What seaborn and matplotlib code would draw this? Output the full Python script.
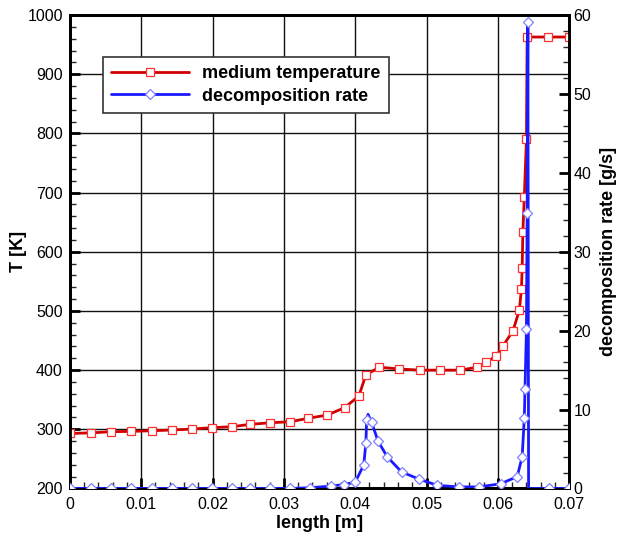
import matplotlib
matplotlib.use("Agg")
import matplotlib.pyplot as plt
import seaborn as sns
import numpy as np
import pandas as pd
from matplotlib.ticker import MultipleLocator
from matplotlib.lines import Line2D

sns.set_theme(style="white")
plt.rcParams['font.family'] = ['Liberation Sans', 'DejaVu Sans']
plt.rcParams['text.color'] = 'black'
plt.rcParams['axes.labelcolor'] = 'black'

# medium temperature
temp_x = [0.0, 0.0030, 0.0058, 0.0086, 0.0115, 0.0143, 0.0171, 0.0199, 0.0227, 0.0253,
          0.0281, 0.0309, 0.0334, 0.0361, 0.0385, 0.0405, 0.0415, 0.0434, 0.0461, 0.0491,
          0.0519, 0.0547, 0.0571, 0.0584, 0.0598, 0.0607, 0.0621, 0.0630, 0.0633, 0.0634,
          0.0635, 0.0637, 0.0640, 0.0641, 0.0670, 0.0700]
temp_T = [293, 294, 296, 296.5, 297.6, 298.8, 300.5, 302.7, 304.4, 308.4,
          311.1, 312.8, 318.6, 324.2, 336.5, 356, 392, 405, 402, 400,
          400, 400, 405, 414, 424, 441, 466, 501, 537, 572,
          633, 692, 790, 963, 963, 963]

# decomposition rate
rate_x = [0.0, 0.0030, 0.0058, 0.0086, 0.0115, 0.0143, 0.0171, 0.0199, 0.0227, 0.0253,
          0.0281, 0.0309, 0.0337, 0.0366, 0.0384, 0.0400, 0.0412, 0.0415, 0.0416, 0.0418,
          0.0423, 0.0432, 0.0445, 0.0465, 0.0489, 0.0515, 0.0545, 0.0574, 0.0604, 0.0627,
          0.0634, 0.0637, 0.0638, 0.0640, 0.0641, 0.0642, 0.0643, 0.0671, 0.0700]
rate_v = [0, 0, 0, 0, 0, 0, 0, 0, 0, 0,
          0, 0, 0.1, 0.3, 0.5, 0.8, 3.0, 5.8, 8.7, 9.4,
          8.4, 6.0, 4.0, 2.1, 1.2, 0.4, 0.2, 0.2, 0.6, 1.5,
          4.0, 8.9, 12.6, 20.2, 34.9, 59.1, 0, 0, 0]
rate_nomarker = [19, 36]

red = "#d00000"
red_m = "#ff3030"
blue = "#1a1aff"
blue_m = "#8080ff"

fig = plt.figure(figsize=(6.29, 5.40), dpi=100)
ax = fig.add_axes([0.111, 0.0954, 0.794, 0.8766])
ax2 = ax.twinx()

df_t = pd.DataFrame({"x": temp_x, "T": temp_T})
df_r = pd.DataFrame({"x": rate_x, "r": rate_v})

sns.lineplot(data=df_t, x="x", y="T", ax=ax, color=red, lw=2.0, sort=False,
             estimator=None, marker="s", markersize=5.2, markerfacecolor="white",
             markeredgecolor=red_m, markeredgewidth=0.9, zorder=3)
mk = [i for i in range(len(rate_x)) if i not in rate_nomarker]
sns.lineplot(data=df_r, x="x", y="r", ax=ax2, color=blue, lw=2.0, sort=False,
             estimator=None, marker="D", markersize=5.2, markerfacecolor="white",
             markeredgecolor=blue_m, markeredgewidth=0.9, markevery=mk, zorder=3)

ax.set_xlim(0, 0.07)
ax.set_ylim(200, 1000)
ax2.set_ylim(0, 60)

ax.xaxis.set_major_locator(MultipleLocator(0.01))
ax.xaxis.set_minor_locator(MultipleLocator(0.002))
ax.yaxis.set_major_locator(MultipleLocator(100))
ax.yaxis.set_minor_locator(MultipleLocator(20))
ax2.yaxis.set_major_locator(MultipleLocator(10))
ax2.yaxis.set_minor_locator(MultipleLocator(2))
ax.set_xticklabels([f"{v:g}" for v in np.round(ax.get_xticks(), 2)])

ax.grid(True, which="major", color="#111111", lw=1.0)
ax.set_axisbelow(True)

for a in (ax, ax2):
    for s in a.spines.values():
        s.set_linewidth(2.0)
        s.set_color("black")
ax.tick_params(axis="both", which="major", direction="in", length=7, width=2,
               labelsize=11.5, colors="black", pad=5)
ax.tick_params(axis="x", which="major", pad=6)
ax.tick_params(axis="both", which="minor", direction="in", length=4, width=1)
ax.tick_params(axis="x", which="both", bottom=True, top=False)
ax.tick_params(axis="y", which="both", left=True, right=False)
ax2.tick_params(axis="y", which="major", direction="in", length=7, width=2,
                labelsize=11.5, colors="black", pad=3, right=True)
ax2.tick_params(axis="y", which="minor", direction="in", length=4, width=1, right=True)

ax.set_xlabel("length [m]", fontsize=13, fontweight="bold", labelpad=2)
ax.set_ylabel("T [K]", fontsize=13, fontweight="bold", labelpad=0)
ax2.set_ylabel("decomposition rate [g/s]", fontsize=13, fontweight="bold", labelpad=6)

handles = [
    Line2D([], [], color=red, lw=2, marker="s", markersize=5.2, markerfacecolor="white",
           markeredgecolor=red_m, markeredgewidth=0.9),
    Line2D([], [], color=blue, lw=2, marker="D", markersize=5.2, markerfacecolor="white",
           markeredgecolor=blue_m, markeredgewidth=0.9),
]
leg = ax2.legend(handles, ["medium temperature", "decomposition rate"],
                 loc="upper left", bbox_to_anchor=(0.066, 0.911), fancybox=False,
                 framealpha=1, edgecolor="#333333", handlelength=4.3,
                 prop={"weight": "bold", "size": 13}, borderpad=0.45,
                 labelspacing=0.3, handletextpad=0.75, borderaxespad=0)
leg.get_frame().set_linewidth(1.2)

fig.savefig("out.png", dpi=100)
